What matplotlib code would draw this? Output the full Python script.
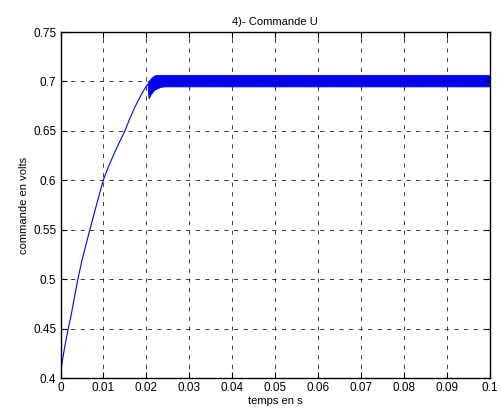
import numpy as np
import matplotlib
matplotlib.use("Agg")
import matplotlib.pyplot as plt

plt.rcParams['font.family'] = ['Liberation Sans', 'DejaVu Sans']

# rising part of the command
t_rise = [0, 0.0005, 0.001, 0.0018, 0.0025, 0.003, 0.004, 0.005, 0.006, 0.0069,
          0.008, 0.009, 0.00995, 0.011, 0.012, 0.013, 0.014, 0.015, 0.016,
          0.017, 0.018, 0.019, 0.0198, 0.0203]
u_rise = [0.405, 0.419, 0.432, 0.45, 0.464, 0.476, 0.499, 0.519, 0.536, 0.551,
          0.569, 0.585, 0.6, 0.612, 0.622, 0.632, 0.641, 0.65, 0.661,
          0.671, 0.68, 0.688, 0.694, 0.697]

# envelope of the fast oscillation after t = 0.02
t_band = [0.0203, 0.0205, 0.021, 0.0215, 0.022, 0.023, 0.024, 0.03, 0.1]
u_high = [0.698, 0.700, 0.703, 0.705, 0.7063, 0.7066, 0.7066, 0.7066, 0.7066]
u_low = [0.694, 0.683, 0.687, 0.690, 0.692, 0.694, 0.695, 0.695, 0.695]

fig = plt.figure(figsize=(5.01, 4.17), dpi=100)
ax = fig.add_axes([60.5 / 501, 1 - 378 / 417, 429.5 / 501, 346 / 417])

ax.plot(t_rise, u_rise, color='#0000ff', lw=0.8)
ax.fill_between(t_band, u_low, u_high, color='#0000ff', lw=0.6, edgecolor='#0000ff')

ax.set_xlim(0, 0.1)
ax.set_ylim(0.4, 0.75)
ax.set_xticks(np.arange(0, 0.1001, 0.01))
ax.set_xticklabels(['0', '0.01', '0.02', '0.03', '0.04', '0.05', '0.06', '0.07', '0.08', '0.09', '0.1'])
ax.set_yticks(np.arange(0.4, 0.7501, 0.05))
ax.set_yticklabels(['0.4', '0.45', '0.5', '0.55', '0.6', '0.65', '0.7', '0.75'])
ax.tick_params(direction='in', length=4, labelsize=8.5, top=True, right=True, pad=3)
ax.grid(True, color='#202020', linestyle=(0, (5, 6.5)), lw=0.6)
for s in ax.spines.values():
    s.set_linewidth(1)

ax.set_title('4)- Commande U', fontsize=8, pad=5)
ax.set_xlabel('temps en s', fontsize=8, labelpad=1)
ax.set_ylabel('commande en volts', fontsize=8, labelpad=3)

fig.savefig('out.png', dpi=100)
